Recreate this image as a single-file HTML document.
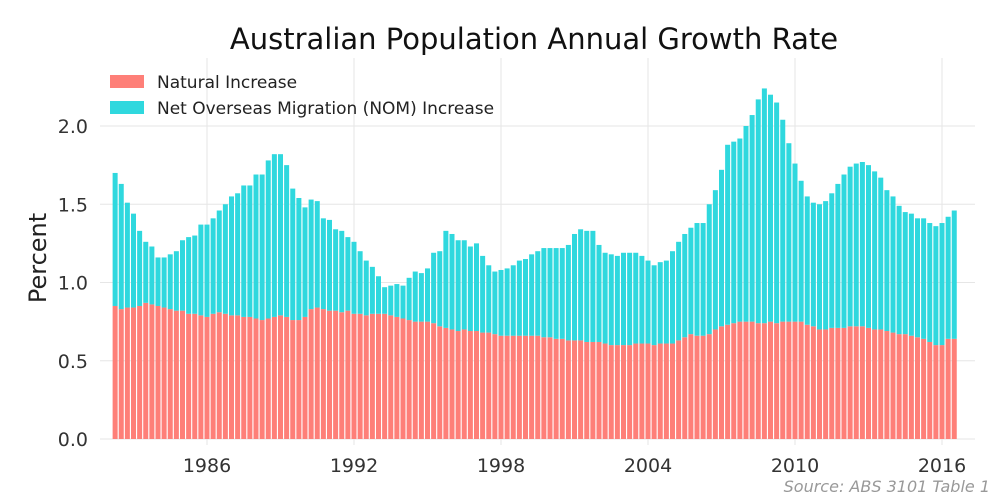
<!DOCTYPE html>
<html><head><meta charset="utf-8"><style>
body{margin:0;background:#fff;font-family:"DejaVu Sans","Liberation Sans",sans-serif;}
svg{display:block}
</style></head><body>
<svg id="chart" width="1000" height="500">
<text x="534" y="49" font-size="29" text-anchor="middle" fill="#111">Australian Population Annual Growth Rate</text>
<g id="grid"></g><g id="bars"></g><g id="axes"></g>
<text transform="translate(46,258) rotate(-90)" font-size="24" text-anchor="middle" fill="#222">Percent</text>
<g>
<rect x="110" y="75" width="34" height="13" fill="#fe7f78"/>
<text x="157" y="88" font-size="17" fill="#222">Natural Increase</text>
<rect x="110" y="101" width="34" height="13" fill="#2fd8de"/>
<text x="157" y="114" font-size="17" fill="#222">Net Overseas Migration (NOM) Increase</text>
</g>
<text x="990" y="492" font-size="16" font-style="italic" text-anchor="end" fill="#999">Source: ABS 3101 Table 1</text>
</svg>
<script>
const startYear = 1982.25;
const totalValues = [1.70,1.63,1.51,1.44,1.33,1.26,1.23,1.16,1.16,1.18,
1.20,1.27,1.29,1.30,1.37,1.37,1.41,1.46,1.50,1.55,
1.57,1.62,1.62,1.69,1.69,1.78,1.82,1.82,1.75,1.60,
1.54,1.48,1.53,1.52,1.41,1.40,1.34,1.33,1.29,1.26,
1.20,1.14,1.10,1.04,0.97,0.98,0.99,0.98,1.03,1.07,
1.06,1.09,1.19,1.20,1.33,1.31,1.27,1.27,1.23,1.25,
1.17,1.11,1.07,1.08,1.09,1.11,1.14,1.15,1.18,1.20,
1.22,1.22,1.22,1.22,1.24,1.31,1.34,1.33,1.33,1.24,
1.19,1.18,1.17,1.19,1.19,1.19,1.17,1.14,1.11,1.13,
1.14,1.20,1.26,1.31,1.35,1.38,1.38,1.50,1.59,1.72,
1.88,1.90,1.92,2.00,2.07,2.17,2.24,2.20,2.15,2.04,
1.89,1.76,1.65,1.55,1.51,1.50,1.52,1.57,1.63,1.69,
1.74,1.76,1.77,1.75,1.71,1.67,1.59,1.55,1.49,1.45,
1.44,1.41,1.41,1.38,1.36,1.38,1.42,1.46];
const naturalValues = [0.85,0.83,0.84,0.84,0.85,0.87,0.86,0.85,0.84,0.83,
0.82,0.82,0.80,0.80,0.79,0.78,0.80,0.81,0.80,0.79,
0.79,0.78,0.78,0.77,0.76,0.77,0.78,0.79,0.78,0.76,
0.76,0.78,0.83,0.84,0.83,0.82,0.82,0.81,0.82,0.80,
0.80,0.79,0.80,0.80,0.80,0.79,0.78,0.77,0.76,0.75,
0.75,0.75,0.74,0.72,0.71,0.70,0.69,0.70,0.69,0.69,
0.68,0.68,0.67,0.66,0.66,0.66,0.66,0.66,0.66,0.66,
0.65,0.65,0.64,0.64,0.63,0.63,0.63,0.62,0.62,0.62,
0.61,0.60,0.60,0.60,0.60,0.61,0.61,0.61,0.60,0.61,
0.61,0.61,0.63,0.65,0.67,0.66,0.66,0.67,0.70,0.72,
0.73,0.74,0.75,0.75,0.75,0.74,0.74,0.75,0.74,0.75,
0.75,0.75,0.75,0.73,0.72,0.70,0.70,0.71,0.71,0.71,
0.72,0.72,0.72,0.71,0.70,0.70,0.69,0.68,0.67,0.67,
0.66,0.65,0.64,0.62,0.60,0.60,0.64,0.64];
const xTicks = [1986,1992,1998,2004,2010,2016];
const yTicks = [0.0,0.5,1.0,1.5,2.0];

const NS='http://www.w3.org/2000/svg';
const xs = y => 207 + (y-1986)*24.5;
const ys = v => 439 - v*156.5;
function mk(tag, attrs, parent){const e=document.createElementNS(NS,tag);for(const k in attrs)e.setAttribute(k,attrs[k]);parent.appendChild(e);return e;}
const grid=document.getElementById('grid'), bars=document.getElementById('bars'), axes=document.getElementById('axes');
yTicks.forEach(t=>{
  const l=mk('line',{x1:100,x2:975,y1:ys(t),y2:ys(t),stroke:'#e6e6e6','stroke-width':1},grid);
  
  
  const tx=mk('text',{x:88,y:ys(t)+7,'font-size':19,'text-anchor':'end',fill:'#333'},axes);
  tx.textContent=t.toFixed(1);
  
  
});
xTicks.forEach(t=>{
  const l=mk('line',{x1:xs(t),x2:xs(t),y1:58,y2:445,stroke:'#e6e6e6','stroke-width':1},grid);
  
  
  const tx=mk('text',{x:xs(t),y:472,'font-size':19,'text-anchor':'middle',fill:'#333'},axes);
  tx.textContent=t;
  
  
});
totalValues.forEach((tot,i)=>{
  const nat=naturalValues[i];
  const cx=xs(startYear+i*0.25);
  const w=5;
  const r1=mk('rect',{x:cx-w/2,y:ys(nat),width:w,height:ys(0)-ys(nat),fill:'#fe7f78'},bars);
  
  
  const r2=mk('rect',{x:cx-w/2,y:ys(tot),width:w,height:ys(nat)-ys(tot),fill:'#2fd8de'},bars);
  
  
});
</script>
</body></html>
